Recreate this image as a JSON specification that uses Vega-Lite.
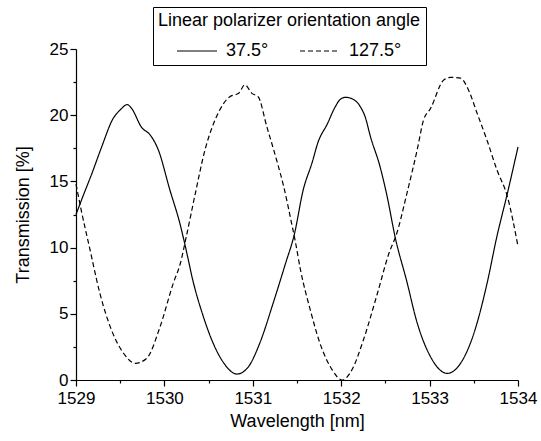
{
  "$schema": "https://vega.github.io/schema/vega-lite/v6.json",
  "width": 442,
  "height": 331,
  "autosize": {"type": "none"},
  "padding": {"left": 76, "top": 49, "right": 23, "bottom": 61},
  "background": "white",
  "config": {
    "view": {"stroke": null},
    "font": "Liberation Sans",
    "axis": {
      "domainColor": "black",
      "domainWidth": 1.2,
      "tickColor": "black",
      "tickWidth": 1.2,
      "labelColor": "black",
      "titleColor": "black",
      "labelFont": "Liberation Sans",
      "titleFont": "Liberation Sans",
      "labelFontSize": 17,
      "titleFontSize": 18,
      "titleFontWeight": "normal",
      "labelFlush": false,
      "labelOverlap": false,
      "grid": false
    }
  },
  "data": {
    "values": [
      {"angle": "37.5°", "wl": 1529.00, "t": 12.5},
      {"angle": "37.5°", "wl": 1529.08, "t": 13.9},
      {"angle": "37.5°", "wl": 1529.18, "t": 15.6},
      {"angle": "37.5°", "wl": 1529.29, "t": 17.6},
      {"angle": "37.5°", "wl": 1529.42, "t": 19.75},
      {"angle": "37.5°", "wl": 1529.50, "t": 20.4},
      {"angle": "37.5°", "wl": 1529.58, "t": 20.8},
      {"angle": "37.5°", "wl": 1529.63, "t": 20.5},
      {"angle": "37.5°", "wl": 1529.74, "t": 19.1},
      {"angle": "37.5°", "wl": 1529.84, "t": 18.5},
      {"angle": "37.5°", "wl": 1529.93, "t": 17.4},
      {"angle": "37.5°", "wl": 1530.06, "t": 14.4},
      {"angle": "37.5°", "wl": 1530.18, "t": 11.7},
      {"angle": "37.5°", "wl": 1530.23, "t": 10.3},
      {"angle": "37.5°", "wl": 1530.33, "t": 7.3},
      {"angle": "37.5°", "wl": 1530.44, "t": 4.8},
      {"angle": "37.5°", "wl": 1530.55, "t": 2.8},
      {"angle": "37.5°", "wl": 1530.67, "t": 1.3},
      {"angle": "37.5°", "wl": 1530.82, "t": 0.45},
      {"angle": "37.5°", "wl": 1530.95, "t": 1.0},
      {"angle": "37.5°", "wl": 1531.08, "t": 2.8},
      {"angle": "37.5°", "wl": 1531.23, "t": 5.8},
      {"angle": "37.5°", "wl": 1531.37, "t": 8.8},
      {"angle": "37.5°", "wl": 1531.47, "t": 11.0},
      {"angle": "37.5°", "wl": 1531.57, "t": 14.35},
      {"angle": "37.5°", "wl": 1531.67, "t": 16.4},
      {"angle": "37.5°", "wl": 1531.74, "t": 18.0},
      {"angle": "37.5°", "wl": 1531.84, "t": 19.3},
      {"angle": "37.5°", "wl": 1531.93, "t": 20.6},
      {"angle": "37.5°", "wl": 1531.99, "t": 21.2},
      {"angle": "37.5°", "wl": 1532.05, "t": 21.35},
      {"angle": "37.5°", "wl": 1532.10, "t": 21.3},
      {"angle": "37.5°", "wl": 1532.22, "t": 20.6},
      {"angle": "37.5°", "wl": 1532.27, "t": 19.9},
      {"angle": "37.5°", "wl": 1532.33, "t": 18.4},
      {"angle": "37.5°", "wl": 1532.44, "t": 16.1},
      {"angle": "37.5°", "wl": 1532.52, "t": 13.85},
      {"angle": "37.5°", "wl": 1532.61, "t": 10.8},
      {"angle": "37.5°", "wl": 1532.74, "t": 7.5},
      {"angle": "37.5°", "wl": 1532.86, "t": 4.3},
      {"angle": "37.5°", "wl": 1533.01, "t": 1.76},
      {"angle": "37.5°", "wl": 1533.20, "t": 0.5},
      {"angle": "37.5°", "wl": 1533.35, "t": 1.26},
      {"angle": "37.5°", "wl": 1533.50, "t": 3.5},
      {"angle": "37.5°", "wl": 1533.65, "t": 7.3},
      {"angle": "37.5°", "wl": 1533.76, "t": 10.8},
      {"angle": "37.5°", "wl": 1533.88, "t": 14.1},
      {"angle": "37.5°", "wl": 1534.00, "t": 17.6},
      {"angle": "127.5°", "wl": 1529.00, "t": 14.8},
      {"angle": "127.5°", "wl": 1529.06, "t": 12.8},
      {"angle": "127.5°", "wl": 1529.16, "t": 9.8},
      {"angle": "127.5°", "wl": 1529.27, "t": 6.55},
      {"angle": "127.5°", "wl": 1529.40, "t": 3.8},
      {"angle": "127.5°", "wl": 1529.54, "t": 2.0},
      {"angle": "127.5°", "wl": 1529.67, "t": 1.26},
      {"angle": "127.5°", "wl": 1529.80, "t": 1.64},
      {"angle": "127.5°", "wl": 1529.95, "t": 4.0},
      {"angle": "127.5°", "wl": 1530.10, "t": 7.3},
      {"angle": "127.5°", "wl": 1530.18, "t": 8.8},
      {"angle": "127.5°", "wl": 1530.25, "t": 10.9},
      {"angle": "127.5°", "wl": 1530.35, "t": 14.1},
      {"angle": "127.5°", "wl": 1530.46, "t": 17.4},
      {"angle": "127.5°", "wl": 1530.59, "t": 19.9},
      {"angle": "127.5°", "wl": 1530.74, "t": 21.4},
      {"angle": "127.5°", "wl": 1530.84, "t": 21.65},
      {"angle": "127.5°", "wl": 1530.91, "t": 22.3},
      {"angle": "127.5°", "wl": 1530.99, "t": 21.65},
      {"angle": "127.5°", "wl": 1531.06, "t": 21.4},
      {"angle": "127.5°", "wl": 1531.16, "t": 19.1},
      {"angle": "127.5°", "wl": 1531.27, "t": 16.6},
      {"angle": "127.5°", "wl": 1531.35, "t": 14.6},
      {"angle": "127.5°", "wl": 1531.44, "t": 11.8},
      {"angle": "127.5°", "wl": 1531.48, "t": 10.5},
      {"angle": "127.5°", "wl": 1531.54, "t": 8.3},
      {"angle": "127.5°", "wl": 1531.65, "t": 5.3},
      {"angle": "127.5°", "wl": 1531.76, "t": 2.77},
      {"angle": "127.5°", "wl": 1531.90, "t": 0.75},
      {"angle": "127.5°", "wl": 1532.01, "t": 0.0},
      {"angle": "127.5°", "wl": 1532.12, "t": 0.75},
      {"angle": "127.5°", "wl": 1532.25, "t": 3.0},
      {"angle": "127.5°", "wl": 1532.41, "t": 6.55},
      {"angle": "127.5°", "wl": 1532.54, "t": 9.57},
      {"angle": "127.5°", "wl": 1532.63, "t": 11.1},
      {"angle": "127.5°", "wl": 1532.74, "t": 14.0},
      {"angle": "127.5°", "wl": 1532.86, "t": 17.4},
      {"angle": "127.5°", "wl": 1532.93, "t": 19.6},
      {"angle": "127.5°", "wl": 1533.01, "t": 20.5},
      {"angle": "127.5°", "wl": 1533.16, "t": 22.66},
      {"angle": "127.5°", "wl": 1533.24, "t": 22.86},
      {"angle": "127.5°", "wl": 1533.35, "t": 22.8},
      {"angle": "127.5°", "wl": 1533.44, "t": 21.9},
      {"angle": "127.5°", "wl": 1533.54, "t": 20.1},
      {"angle": "127.5°", "wl": 1533.65, "t": 18.1},
      {"angle": "127.5°", "wl": 1533.76, "t": 15.9},
      {"angle": "127.5°", "wl": 1533.88, "t": 13.85},
      {"angle": "127.5°", "wl": 1534.00, "t": 10.1}
    ]
  },
  "resolve": {"axis": {"x": "independent", "y": "independent"}},
  "layer": [
    {
      "mark": {"type": "line", "opacity": 0},
      "encoding": {
        "x": {"field": "wl", "type": "quantitative", "scale": {"domain": [1529, 1534], "nice": false, "zero": false},
          "axis": {"orient": "bottom", "values": [1529.5, 1530.5, 1531.5, 1532.5, 1533.5], "labels": false, "domain": false, "tickSize": 3, "title": null}},
        "y": {"field": "t", "type": "quantitative", "scale": {"domain": [0, 25], "nice": false},
          "axis": {"orient": "left", "values": [2.5, 7.5, 12.5, 17.5, 22.5], "labels": false, "domain": false, "tickSize": 3, "title": null}},
        "detail": {"field": "angle"}
      }
    },
    {
      "mark": {"type": "line", "color": "black", "strokeWidth": 1.2, "interpolate": "monotone"},
      "encoding": {
        "x": {"field": "wl", "type": "quantitative", "scale": {"domain": [1529, 1534], "nice": false, "zero": false},
          "axis": {"orient": "bottom", "values": [1529, 1530, 1531, 1532, 1533, 1534], "format": "d", "tickSize": 6, "labelPadding": 4, "title": "Wavelength [nm]", "titlePadding": 6}},
        "y": {"field": "t", "type": "quantitative", "scale": {"domain": [0, 25], "nice": false},
          "axis": {"orient": "left", "values": [0, 5, 10, 15, 20, 25], "tickSize": 6, "labelPadding": 2, "title": "Transmission [%]", "titlePadding": 17}},
        "strokeDash": {
          "field": "angle", "type": "nominal",
          "scale": {"domain": ["37.5°", "127.5°"], "range": [[1, 0], [5, 3]]},
          "legend": {
            "title": "Linear polarizer orientation angle",
            "orient": "none",
            "legendX": 77,
            "legendY": -42,
            "direction": "horizontal",
            "titleAnchor": "middle",
            "titleLimit": 500,
            "titleFontSize": 18,
            "titleFontWeight": "normal",
            "titleFont": "Liberation Sans",
            "titleColor": "black",
            "titlePadding": 0,
            "labelFontSize": 18,
            "labelFont": "Liberation Sans",
            "labelColor": "black",
            "labelOffset": 8,
            "symbolType": "stroke",
            "symbolSize": 1600,
            "symbolStrokeWidth": 1.2,
            "symbolStrokeColor": "black",
            "columnPadding": 28,
            "strokeColor": "black",
            "fillColor": "white",
            "padding": 5
          }
        }
      }
    }
  ]
}
